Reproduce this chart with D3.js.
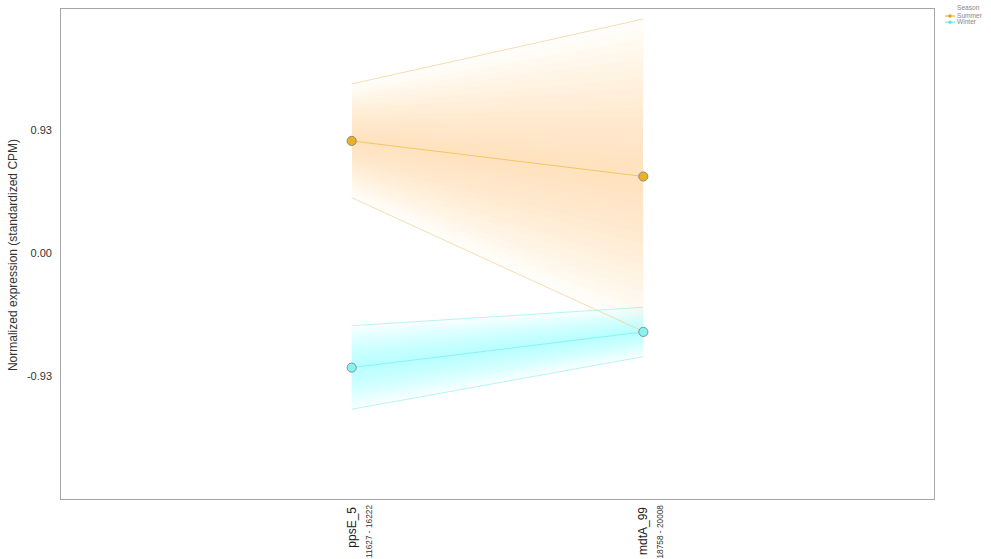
<!DOCTYPE html>
<html>
<head>
<meta charset="utf-8">
<script src="https://cdn.jsdelivr.net/npm/d3@7"></script>
<style>
  html, body { margin: 0; padding: 0; background: #fff; }
  svg { display: block; font-family: "Liberation Sans", Arial, sans-serif; }
</style>
</head>
<body>
<svg id="chart" width="991" height="559"></svg>
<script>
// Genes on the x axis, with their coordinate ranges
const genes = ["ppsE_5", "mdtA_99"];
const geneRanges = ["11627 - 16222", "18758 - 20008"];

// Seasons
const seasons = ["Summer", "Winter"];

// Standardized expression per season: mean and interval bounds, one value per gene
const summerMean  = [0.847, 0.578];
const summerUpper = [1.278, 1.769];
const summerLower = [0.418, -0.594];

const winterMean  = [-0.867, -0.597];
const winterUpper = [-0.550, -0.411];
const winterLower = [-1.182, -0.784];

// Y axis ticks
const yTicks = [-0.93, 0, 0.93];
const yTickLabels = ["-0.93", "0.00", "0.93"];
const yDomain = [-1.868, 1.852];

const plot = { left: 60, right: 935, top: 8, bottom: 500 };

const svg = d3.select("#chart");

const x = d3.scalePoint().domain(genes).range([plot.left, plot.right]).padding(1);
const y = d3.scaleLinear().domain(yDomain).range([plot.bottom, plot.top]);

const styles = {
  Summer: { ribbon: "#f6ca90", line: "#efc05a", bound: "#f0cc8c", point: "#e9b126", key: "#e8a21e" },
  Winter: { ribbon: "#8ff9f9", line: "#84eeee", bound: "#8ff0f0", point: "#88f2f2", key: "#62e6e6" }
};

const series = [
  { name: "Winter", mean: winterMean, upper: winterUpper, lower: winterLower },
  { name: "Summer", mean: summerMean, upper: summerUpper, lower: summerLower }
];

// Panel background
svg.append("rect")
  .attr("x", plot.left).attr("y", plot.top)
  .attr("width", plot.right - plot.left).attr("height", plot.bottom - plot.top)
  .attr("fill", "#fff");

const gData = svg.append("g");

// Graded ribbons: stacked translucent bands that widen from the mean to the bounds
const layers = 16;
const alphaBy = { Summer: 0.044, Winter: 0.055 };
series.forEach(s => {
  const st = styles[s.name];
  const g = gData.append("g");
  for (let k = 1; k <= layers; k++) {
    const f = k / layers;
    const area = d3.area()
      .x((d, i) => x(genes[i]))
      .y0((d, i) => y(s.mean[i] + f * (s.lower[i] - s.mean[i])))
      .y1((d, i) => y(s.mean[i] + f * (s.upper[i] - s.mean[i])));
    g.append("path")
      .datum(s.mean)
      .attr("d", area)
      .attr("fill", st.ribbon)
      .attr("fill-opacity", alphaBy[s.name]);
  }
  const line = vals => d3.line().x((d, i) => x(genes[i])).y(d => y(d))(vals);
  g.append("path").attr("d", line(s.upper)).attr("fill", "none")
    .attr("stroke", st.bound).attr("stroke-width", 0.9).attr("stroke-opacity", 0.75);
  g.append("path").attr("d", line(s.lower)).attr("fill", "none")
    .attr("stroke", st.bound).attr("stroke-width", 0.9).attr("stroke-opacity", 0.75);
  g.append("path").attr("d", line(s.mean)).attr("fill", "none")
    .attr("stroke", st.line).attr("stroke-width", 1).attr("stroke-opacity", 0.85);
});

// Points at each gene
series.forEach(s => {
  const st = styles[s.name];
  gData.selectAll(null)
    .data(s.mean)
    .enter().append("circle")
    .attr("cx", (d, i) => x(genes[i]))
    .attr("cy", d => y(d))
    .attr("r", 4.6)
    .attr("fill", st.point)
    .attr("stroke", "#7a7a7a")
    .attr("stroke-width", 0.8);
});

// Border
svg.append("rect")
  .attr("x", plot.left + 0.5).attr("y", plot.top + 0.5)
  .attr("width", plot.right - plot.left - 1).attr("height", plot.bottom - plot.top - 1)
  .attr("fill", "none").attr("stroke", "#a6a6a6").attr("stroke-width", 1);

// Y axis labels
const yAxis = d3.axisLeft(y).tickValues(yTicks)
  .tickFormat((d, i) => yTickLabels[i]).tickSize(0).tickPadding(8);
const gy = svg.append("g").attr("transform", `translate(${plot.left},0)`).call(yAxis);
gy.select(".domain").remove();
gy.selectAll("text").attr("font-size", 11).attr("fill", "#333")
  .attr("font-family", "Liberation Sans, Arial, sans-serif");

svg.append("text")
  .attr("transform", `translate(17,${(plot.top + plot.bottom) / 2 + 1}) rotate(-90)`)
  .attr("text-anchor", "middle")
  .attr("font-size", 12)
  .attr("fill", "#333")
  .text("Normalized expression (standardized CPM)");

// X axis labels: gene name plus coordinate range, rotated
const gx = svg.append("g");
genes.forEach((gName, i) => {
  const cx = x(gName);
  gx.append("text")
    .attr("transform", `translate(${cx + 4},${plot.bottom + 7}) rotate(-90)`)
    .attr("text-anchor", "end")
    .attr("font-size", 12)
    .attr("fill", "#222")
    .text(gName);
  gx.append("text")
    .attr("transform", `translate(${cx + 20},${plot.bottom + 5}) rotate(-90)`)
    .attr("text-anchor", "end")
    .attr("font-size", 8.3)
    .attr("fill", "#333")
    .text(geneRanges[i]);
});

// Legend
const leg = svg.append("g").attr("transform", "translate(944,0)");
leg.append("text").attr("x", 13).attr("y", 10).attr("font-size", 6.6)
  .attr("fill", "#888").text("Season");
seasons.forEach((s, i) => {
  const yy = 16 + i * 6.2;
  leg.append("line").attr("x1", 1).attr("x2", 11).attr("y1", yy).attr("y2", yy)
    .attr("stroke", styles[s].key).attr("stroke-width", 1);
  leg.append("circle").attr("cx", 6).attr("cy", yy).attr("r", 1.8)
    .attr("fill", styles[s].key);
  leg.append("text").attr("x", 13).attr("y", yy + 2.2).attr("font-size", 6.6)
    .attr("fill", "#888").text(s);
});
</script>
</body>
</html>
